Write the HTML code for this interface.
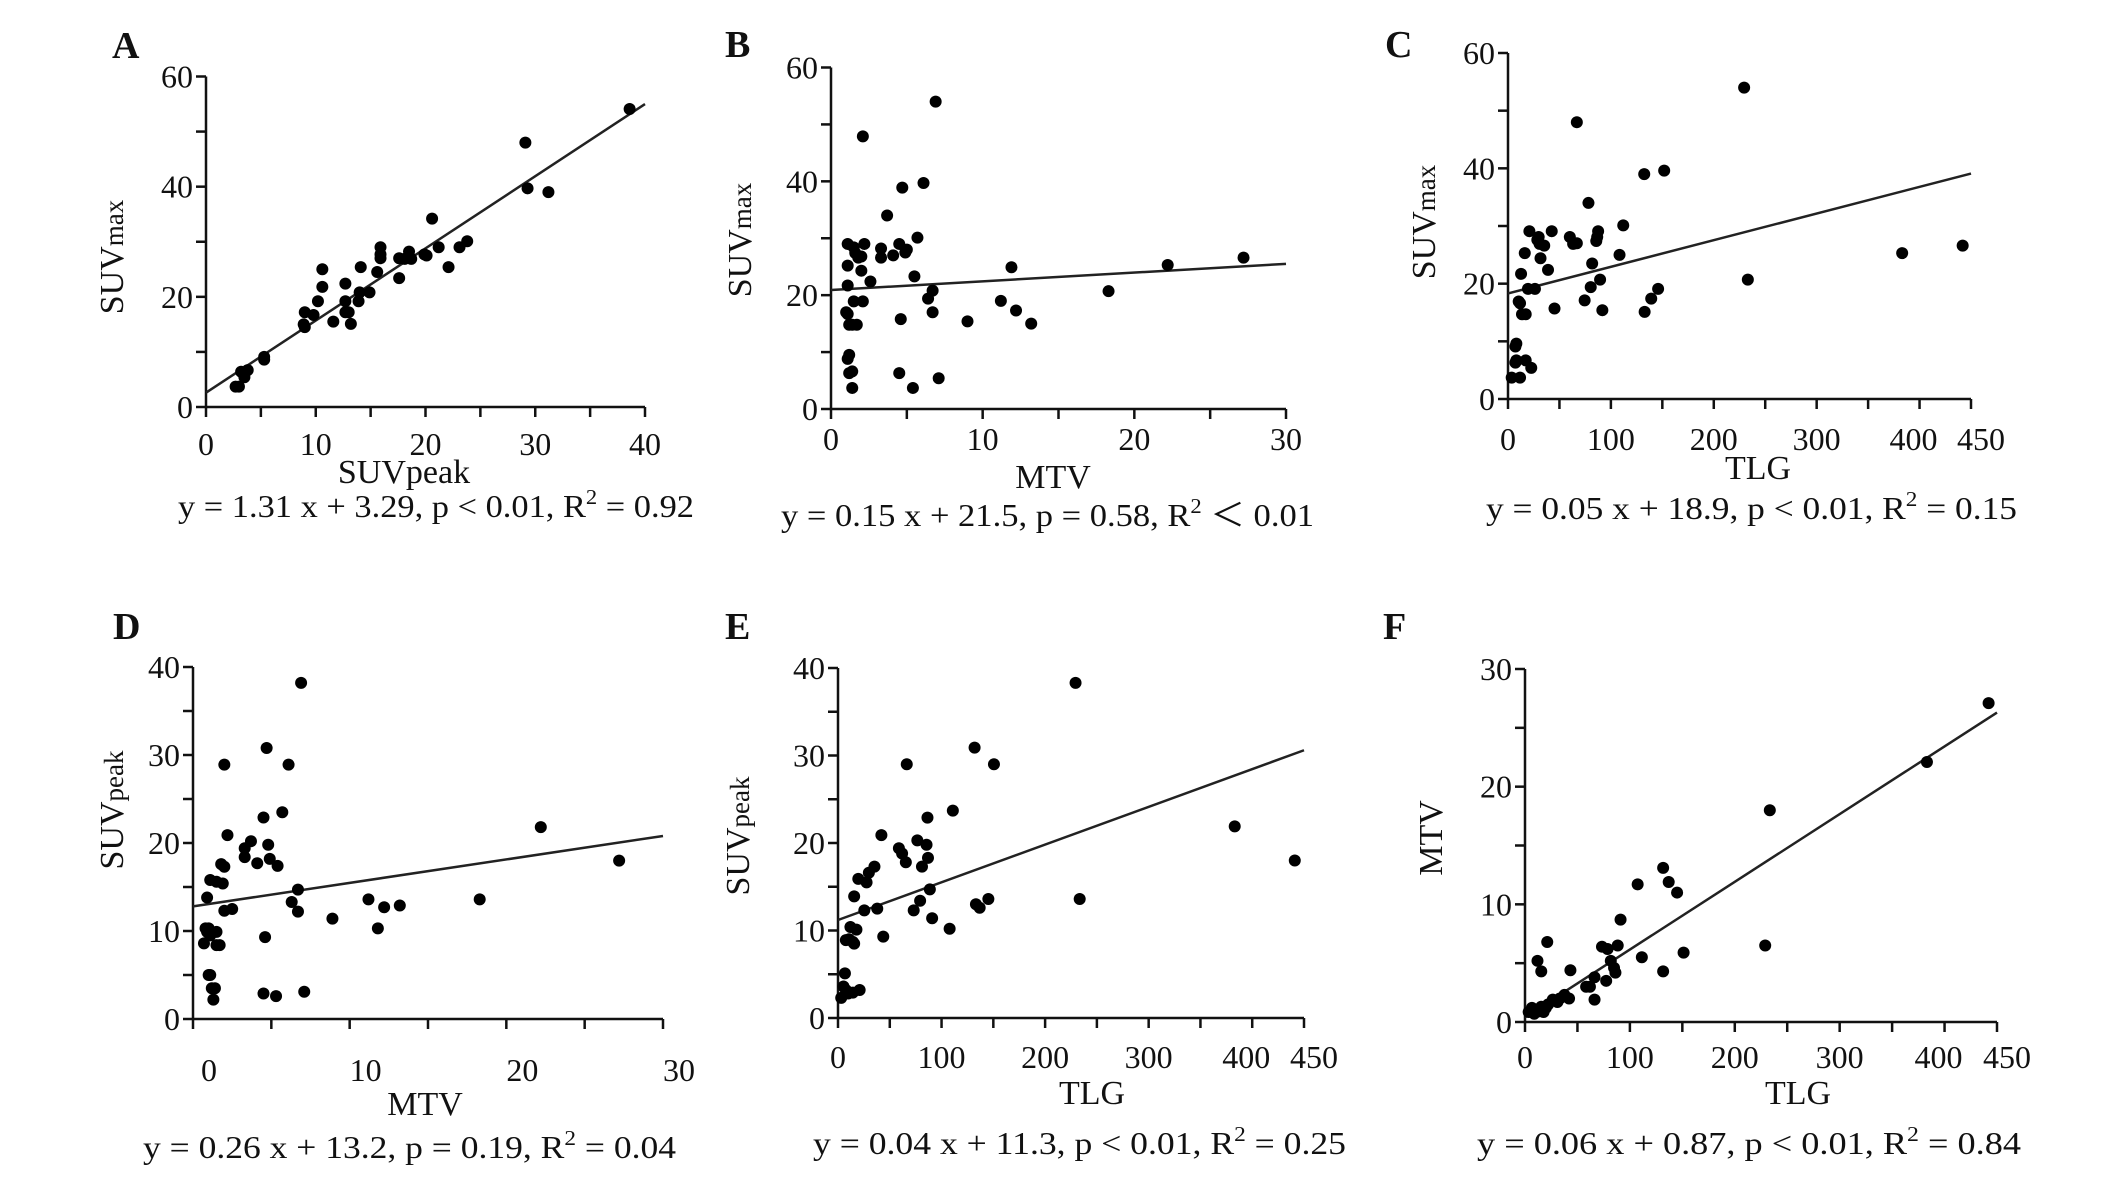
<!DOCTYPE html>
<html>
<head>
<meta charset="utf-8">
<style>
html,body{margin:0;padding:0;background:#fff;}
svg{display:block;}
text{font-family:"Liberation Serif","Times New Roman",serif;fill:#111;}
</style>
</head>
<body>
<svg id="fig" width="2126" height="1180" viewBox="0 0 2126 1180" xmlns="http://www.w3.org/2000/svg"></svg>
<script>
// ---------- Panel A: SUVpeak vs SUVmax ----------
const aX = [2.7,3.0,3.2,3.5,3.8,5.3,5.3,8.9,9.0,9.0,9.8,10.2,10.6,10.6,11.6,12.7,12.7,12.7,13.0,13.2,14.1,14.0,13.9,14.9,15.6,15.9,15.9,15.9,17.6,17.6,18.1,18.5,18.7,19.9,20.1,20.6,21.2,22.1,23.1,23.8,29.1,29.3,31.2,38.6];
const aY = [3.7,3.7,6.4,5.4,6.7,9.1,8.6,15.0,17.2,14.5,16.7,19.2,25.0,21.8,15.5,22.4,19.2,17.2,17.2,15.1,25.4,20.8,19.2,20.8,24.5,29.0,27.7,27.0,27.0,23.4,26.9,28.2,26.9,27.7,27.5,34.2,29.0,25.4,29.0,30.1,48.0,39.7,39.0,54.1];
const aFit = [2.6, 55.0];
const aXTicks = [0,10,20,30,40];
const aYTicks = [0,20,40,60];

// ---------- Panel B: MTV vs SUVmax ----------
const bX = [1.0,1.1,1.1,1.1,1.1,1.2,1.4,1.1,1.2,1.2,1.4,1.4,1.5,1.6,1.8,2.0,1.5,1.7,2.0,2.1,2.1,2.2,2.6,3.3,3.3,3.7,4.1,4.5,4.5,4.6,4.7,4.9,5.0,5.4,5.5,5.7,6.1,6.4,6.7,6.7,7.1,6.9,9.0,11.2,11.9,12.2,13.2,18.3,22.2,27.2];
const bY = [17.0,16.7,25.2,21.7,29.0,14.8,14.8,8.8,9.5,6.3,6.6,3.7,28.4,27.4,26.6,26.8,18.9,14.8,24.3,47.9,18.9,29.0,22.4,28.2,26.6,34.0,27.0,29.0,6.3,15.8,38.9,27.5,28.0,3.7,23.3,30.1,39.7,19.4,20.8,17.0,5.4,54.0,15.4,19.0,24.9,17.3,15.0,20.7,25.3,26.6];
const bFit = [20.9, 25.5];
const bXTicks = [0,10,20,30];
const bYTicks = [0,20,40,60];

// ---------- Panel C: TLG vs SUVmax ----------
const cX = [3.6,7.2,8.1,7.2,8.1,11.7,10.4,11.7,12.7,13.6,17.2,16.3,17.2,19.4,20.8,22.6,26.2,28.5,29.8,30.7,35.2,31.6,38.9,42.5,45.2,60.1,63.3,66.9,66.9,74.5,78.2,80.4,81.8,85.8,87.6,86.7,89.5,91.7,108.4,112.0,132.4,132.8,139.2,145.9,151.8,229.5,233.1,383.1,441.9];
const cY = [3.7,6.3,6.7,9.1,9.6,3.7,16.9,16.6,21.7,14.7,14.7,25.3,6.7,19.1,29.1,5.4,19.1,27.6,28.1,26.9,26.6,24.4,22.4,29.1,15.7,28.1,26.9,27.0,48.0,17.1,34.0,19.4,23.5,27.4,29.1,28.1,20.7,15.4,25.0,30.1,39.0,15.1,17.4,19.1,39.6,54.0,20.7,25.3,26.6];
const cFit = [18.3, 39.1];
const cXTicks = [0,100,200,300,400,450];
const cYTicks = [0,20,40,60];

// ---------- Panel D: MTV vs SUVpeak ----------
const dX = [0.9,0.8,0.9,1.0,0.7,1.1,1.5,1.5,1.7,1.0,1.1,1.2,1.4,1.3,1.1,1.5,1.9,1.8,2.0,2.0,2.2,2.0,2.5,3.3,3.3,3.7,4.1,4.5,4.5,4.6,4.7,4.8,4.9,5.3,5.4,5.7,6.1,6.3,6.7,6.7,6.9,7.1,8.9,11.2,11.8,12.2,13.2,18.3,22.2,27.2];
const dY = [13.8,10.3,9.9,10.3,8.6,9.5,9.9,8.4,8.4,5.0,5.0,3.5,3.5,2.2,15.8,15.6,15.4,17.6,17.3,28.9,20.9,12.3,12.5,19.4,18.4,20.2,17.7,22.9,2.9,9.3,30.8,19.8,18.2,2.6,17.4,23.5,28.9,13.3,14.7,12.2,38.2,3.1,11.4,13.6,10.3,12.7,12.9,13.6,21.8,18.0];
const dFit = [12.8, 20.8];
const dXTicks = [0,10,20,30];
const dYTicks = [0,10,20,30,40];

// ---------- Panel E: TLG vs SUVpeak ----------
const eX = [3.1,5.3,6.7,7.6,9.8,14.3,20.9,7.6,10.7,12.0,14.3,15.6,17.8,15.6,19.6,27.6,29.8,35.2,25.4,37.9,41.9,43.7,58.8,61.9,65.5,66.4,73.1,76.6,79.3,81.1,85.5,86.9,86.4,88.7,90.9,107.8,110.9,131.9,133.2,136.8,145.2,150.6,229.4,233.4,383.1,441.1];
const eY = [2.3,3.6,5.1,3.2,2.8,2.9,3.2,8.9,9.0,10.4,8.7,8.5,10.1,13.9,15.9,15.5,16.6,17.3,12.3,12.5,20.9,9.3,19.4,18.8,17.8,29.0,12.3,20.3,13.4,17.3,19.8,18.3,22.9,14.7,11.4,10.2,23.7,30.9,13.0,12.6,13.6,29.0,38.3,13.6,21.9,18.0];
const eFit = [11.2, 30.6];
const eXTicks = [0,100,200,300,400,450];
const eYTicks = [0,10,20,30,40];

// ---------- Panel F: TLG vs MTV ----------
const fX = [3.5,6.6,8.8,11.1,13.3,15.5,17.7,19.9,22.1,26.5,30.9,33.2,37.6,42.0,11.9,15.5,21.2,43.3,58.3,61.9,66.3,66.3,73.4,78.7,77.4,81.8,84.9,86.2,88.4,91.1,107.4,111.4,131.7,131.7,137.0,145.0,151.2,229.0,233.4,383.2,442.0];
const fY = [0.85,1.2,0.7,1.0,0.9,1.3,0.85,1.2,1.5,1.9,1.7,2.0,2.3,2.0,5.2,4.3,6.8,4.4,3.0,3.0,3.8,1.9,6.4,6.2,3.5,5.2,4.6,4.2,6.5,8.7,11.7,5.5,13.1,4.3,11.9,11.0,5.9,6.5,18.0,22.1,27.1];
const fFit = [0.4, 26.3];
const fXTicks = [0,100,200,300,400,450];
const fYTicks = [0,10,20,30];

const NS = "http://www.w3.org/2000/svg";
const svg = document.getElementById('fig');
function mk(tag, attrs, parent){
  const e = document.createElementNS(NS, tag);
  for (const k in attrs) e.setAttribute(k, attrs[k]);
  (parent||svg).appendChild(e);
  return e;
}

function drawPanel(p){
  const g = mk('g', {});
  
  
  const sx = v => p.x0 + (v / p.xmax) * (p.x1 - p.x0);
  const sy = v => p.y0 - (v / p.ymax) * (p.y0 - p.y1);

  const lt = mk('text', {x:p.letterX, y:p.letterY, 'font-size':38, 'font-weight':'bold'}, g);
  lt.textContent = p.id;
  
  

  const ax = mk('line', {x1:p.x0, y1:p.y0, x2:p.x1, y2:p.y0, stroke:'#111', 'stroke-width':2.5}, g);
  
  
  const ay = mk('line', {x1:p.x0, y1:p.y0, x2:p.x0, y2:p.y1, stroke:'#111', 'stroke-width':2.5}, g);
  
  

  for (let v = 0; v <= p.xmax + 1e-9; v += p.xMinor){
    const t = mk('line', {x1:sx(v), y1:p.y0, x2:sx(v), y2:p.y0 + 10, stroke:'#111', 'stroke-width':2.5}, g);
    
    
  }
  p.xTicks.forEach((v, i) => {
    const sh = (p.xShift && p.xShift[i]) || 0;
    const t = mk('text', {x:sx(v) + p.xLabOff + sh, y:p.tickBase, 'font-size':32, 'text-anchor':'middle'}, g);
    t.textContent = v;
    
    
  });
  for (let v = 0; v <= p.ymax + 1e-9; v += p.yMinor){
    const t = mk('line', {x1:p.x0 - 10, y1:sy(v), x2:p.x0, y2:sy(v), stroke:'#111', 'stroke-width':2.5}, g);
    
    
  }
  p.yTicks.forEach(v => {
    const t = mk('text', {x:p.x0 - 13, y:sy(v) + 11, 'font-size':32, 'text-anchor':'end'}, g);
    t.textContent = v;
    
    
  });

  const xt = mk('text', {x:p.xTitleX, y:p.xTitleY, 'font-size':34, 'text-anchor':'middle'}, g);
  xt.textContent = p.xTitle;
  
  

  const yt = mk('text', {x:0, y:0, 'font-size':34, 'text-anchor':'middle',
    transform:`translate(${p.yTitleX + 12},${p.yTitleY}) rotate(-90)`}, g);
  
  
  const t1 = mk('tspan', {}, yt); t1.textContent = p.yTitle[0];
  if (p.yTitle[1]) { const t2 = mk('tspan', {'font-size':27}, yt); t2.textContent = p.yTitle[1]; }

  const fl = mk('line', {x1:sx(0), y1:sy(p.fit[0]), x2:sx(p.xmax), y2:sy(p.fit[1]), stroke:'#222', 'stroke-width':2.5}, g);
  
  

  p.xs.forEach((xv, i) => {
    const c = mk('circle', {cx:sx(xv), cy:sy(p.ys[i]), r:6, fill:'#000'}, g);
    
    
  });

  const eq = mk('text', {x:p.eqL, y:p.eqY, 'font-size':32, textLength:p.eqR - p.eqL, lengthAdjust:'spacingAndGlyphs'}, g);
  
  
  const e1 = mk('tspan', {}, eq); e1.textContent = p.eq[0];
  const e2 = mk('tspan', {'font-size':21, dy:-13}, eq); e2.textContent = '2';
  const e3 = mk('tspan', {dy:13}, eq); e3.textContent = p.eq[1];
}

const panels = [
  {id:'A', xs:aX, ys:aY, fit:aFit, xTicks:aXTicks, yTicks:aYTicks, xmax:40, ymax:60, xMinor:5, yMinor:10,
   x0:206, x1:645, y0:407, y1:76.5, letterX:112, letterY:58, tickBase:455, xLabOff:0,
   xTitle:'SUVpeak', xTitleX:404, xTitleY:483, yTitle:['SUV','max'], yTitleX:111, yTitleY:257,
   eq:['y = 1.31 x + 3.29, p < 0.01, R',' = 0.92'], eqL:178, eqR:694, eqY:517},
  {id:'B', xs:bX, ys:bY, fit:bFit, xTicks:bXTicks, yTicks:bYTicks, xmax:30, ymax:60, xMinor:5, yMinor:10,
   x0:831, x1:1286, y0:409, y1:67.5, letterX:725, letterY:57, tickBase:450, xLabOff:0,
   xTitle:'MTV', xTitleX:1053, xTitleY:488, yTitle:['SUV','max'], yTitleX:739, yTitleY:240,
   eq:['y = 0.15 x + 21.5, p = 0.58, R',' \uFF1C 0.01'], eqL:781, eqR:1314, eqY:526},
  {id:'C', xs:cX, ys:cY, fit:cFit, xTicks:cXTicks, yTicks:cYTicks, xmax:450, ymax:60, xMinor:50, yMinor:10,
   x0:1508, x1:1971, y0:399, y1:53, letterX:1385, letterY:57, tickBase:450, xLabOff:0, xShift:[0,0,0,0,-6,10],
   xTitle:'TLG', xTitleX:1758, xTitleY:479, yTitle:['SUV','max'], yTitleX:1423, yTitleY:222,
   eq:['y =  0.05 x + 18.9, p < 0.01, R',' = 0.15'], eqL:1486, eqR:2017, eqY:519},
  {id:'D', xs:dX, ys:dY, fit:dFit, xTicks:dXTicks, yTicks:dYTicks, xmax:30, ymax:40, xMinor:5, yMinor:5,
   x0:193, x1:663, y0:1019, y1:667, letterX:113, letterY:639, tickBase:1081, xLabOff:16,
   xTitle:'MTV', xTitleX:425, xTitleY:1115, yTitle:['SUV','peak'], yTitleX:111, yTitleY:810,
   eq:['y = 0.26 x + 13.2, p = 0.19, R',' = 0.04'], eqL:143, eqR:676, eqY:1158},
  {id:'E', xs:eX, ys:eY, fit:eFit, xTicks:eXTicks, yTicks:eYTicks, xmax:450, ymax:40, xMinor:50, yMinor:5,
   x0:838, x1:1304, y0:1018, y1:668, letterX:725, letterY:639, tickBase:1068, xLabOff:0, xShift:[0,0,0,0,-6,10],
   xTitle:'TLG', xTitleX:1092, xTitleY:1104, yTitle:['SUV','peak'], yTitleX:737, yTitleY:836,
   eq:['y =  0.04 x + 11.3, p <  0.01, R',' = 0.25'], eqL:813, eqR:1346, eqY:1154},
  {id:'F', xs:fX, ys:fY, fit:fFit, xTicks:fXTicks, yTicks:fYTicks, xmax:450, ymax:30, xMinor:50, yMinor:5,
   x0:1525, x1:1997, y0:1022, y1:669, letterX:1383, letterY:639, tickBase:1068, xLabOff:0, xShift:[0,0,0,0,-6,10],
   xTitle:'TLG', xTitleX:1798, xTitleY:1104, yTitle:['MTV',''], yTitleX:1430, yTitleY:838,
   eq:['y =  0.06 x + 0.87, p <  0.01, R',' = 0.84'], eqL:1477, eqR:2021, eqY:1154}
];
panels.forEach(drawPanel);
</script>
</body>
</html>
